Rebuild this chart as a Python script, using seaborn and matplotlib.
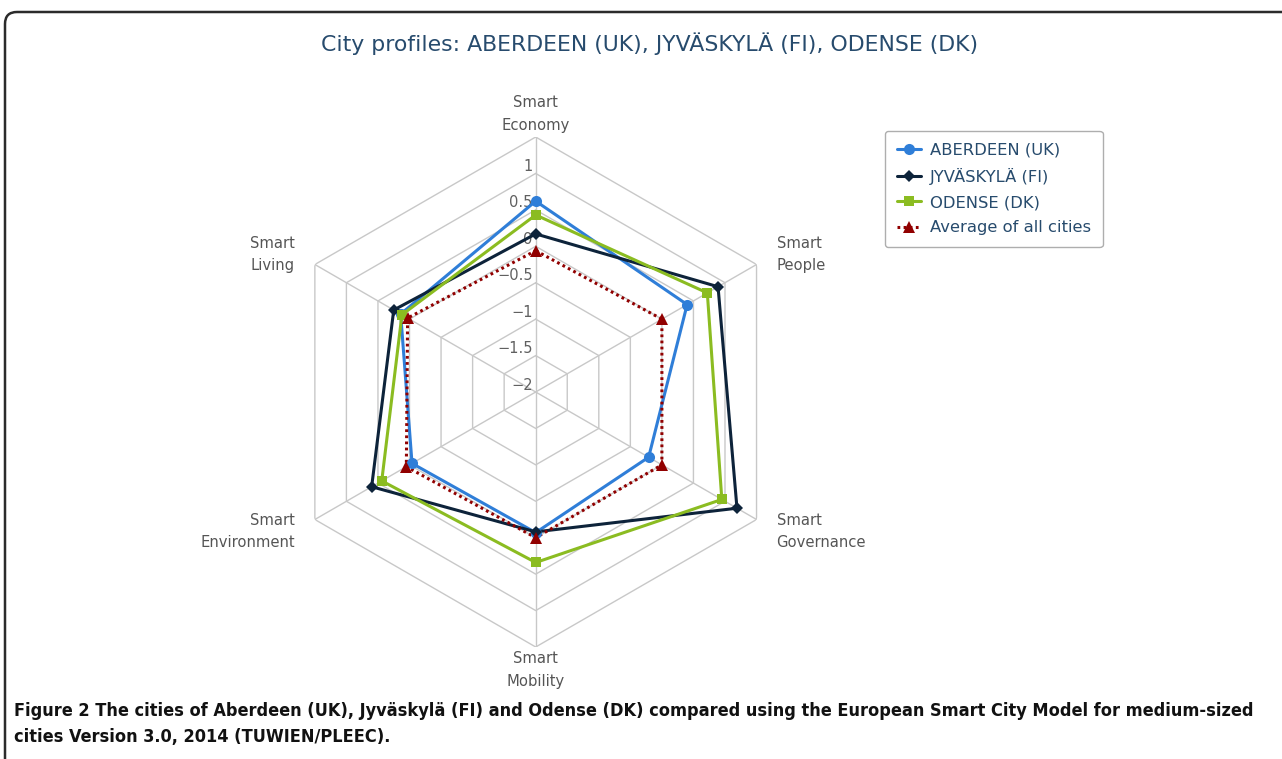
import numpy as np
import pandas as pd
import matplotlib
matplotlib.use("Agg")
import matplotlib.pyplot as plt
import seaborn as sns
from matplotlib.lines import Line2D
from matplotlib.patches import FancyBboxPatch

# ---------------- data ----------------
categories = ["Smart\nEconomy", "Smart\nPeople", "Smart\nGovernance",
              "Smart\nMobility", "Smart\nEnvironment", "Smart\nLiving"]
series_names = ["ABERDEEN (UK)", "JYVÄSKYLÄ (FI)", "ODENSE (DK)", "Average of all cities"]
aberdeen = [0.62, 0.40, -0.21, -0.07, -0.04, 0.14]
jyvaskyla = [0.17, 0.89, 1.19, -0.08, 0.60, 0.25]
odense = [0.43, 0.72, 0.95, 0.34, 0.44, 0.12]
average = [-0.06, 0.00, 0.00, 0.00, 0.05, 0.03]
ring_values = [-2, -1.5, -1, -0.5, 0, 0.5, 1, 1.5]
tick_labels = ["−2", "−1.5", "−1", "−0.5", "0", "0.5", "1"]

title = "City profiles: ABERDEEN (UK), JYVÄSKYLÄ (FI), ODENSE (DK)"
caption1 = "Figure 2 The cities of Aberdeen (UK), Jyväskylä (FI) and Odense (DK) compared using the European Smart City Model for medium-sized"
caption2 = "cities Version 3.0, 2014 (TUWIEN/PLEEC)."

colors = ["#2f7ed8", "#0d233a", "#8bbc21", "#910000"]
markers = ["o", "D", "s", "^"]
msizes = [8, 6, 7.5, 8.5]

# ---------------- figure ----------------
sns.set_theme(style="white")
plt.rcParams["font.family"] = ["DejaVu Sans"]
W, H = 1282, 759
fig = plt.figure(figsize=(W / 100, H / 100), dpi=100)

# overlay axes in pixel units for frame and texts
bg = fig.add_axes([0, 0, 1, 1])
bg.set_xlim(0, W)
bg.set_ylim(0, H)
bg.axis("off")
frame = FancyBboxPatch((5, -20), W + 20, H - 12 + 20,
                       boxstyle="round,pad=0,rounding_size=12",
                       fill=False, edgecolor="#2b2b2b", linewidth=1.8)
bg.add_patch(frame)
bg.text(650, H - 44, title, ha="center", va="center", fontsize=15.8, color="#274b6d")
bg.text(14, H - 711, caption1, ha="left", va="center", fontsize=13.0,
        fontweight="bold", color="#111111", fontstretch="condensed")
bg.text(14, H - 737, caption2, ha="left", va="center", fontsize=13.0,
        fontweight="bold", color="#111111", fontstretch="condensed")

# polar chart: center (535.7, 392) px, outer radius 255 px
cx, cy, R = 535.7, 392, 255
ax = fig.add_axes([(cx - R) / W, (H - cy - R) / H, 2 * R / W, 2 * R / H], projection="polar")
ax.set_theta_offset(np.pi / 2)
ax.set_theta_direction(-1)
ax.patch.set_alpha(0)

n = len(categories)
theta = np.linspace(0, 2 * np.pi, n, endpoint=False)
theta_closed = np.append(theta, 2 * np.pi)

# polygon grid
grid_col = "#C8C8C8"
for r in ring_values[1:]:
    ax.plot(theta_closed, [r] * (n + 1), color=grid_col, lw=1, zorder=1)
for t in theta:
    ax.plot([t, t], [-2, 1.5], color=grid_col, lw=1, zorder=1)

# series through seaborn
rows = []
for name, vals in zip(series_names, [aberdeen, jyvaskyla, odense, average]):
    vv = list(vals) + [vals[0]]
    for i, (t, v) in enumerate(zip(theta_closed, vv)):
        rows.append({"theta": t, "value": v, "series": name, "order": i})
df = pd.DataFrame(rows)

for name, c, m, ms in zip(series_names, colors, markers, msizes):
    sub = df[df["series"] == name]
    dotted = name.startswith("Average")
    sns.lineplot(data=sub, x="theta", y="value", sort=False, estimator=None,
                 color=c, lw=2.2, ax=ax, zorder=5,
                 linestyle=(0, (0.9, 1.1)) if dotted else "-",
                 marker=None)
    s2 = sub.iloc[:-1]
    ax.plot(s2["theta"], s2["value"], linestyle="none", marker=m, markersize=ms,
            color=c, markeredgewidth=0, zorder=6)

ax.set_ylim(-2, 1.5)
ax.grid(False)
ax.set_xticks([])
ax.set_yticks([])
ax.set_xlabel("")
ax.set_ylabel("")
ax.spines["polar"].set_visible(False)

# radial tick labels
for r, lab in zip(ring_values[:-1], tick_labels):
    ax.annotate(lab, xy=(0, r), xytext=(-3, 7), textcoords="offset pixels",
                ha="right", va="center", fontsize=10.5, color="#606060",
                zorder=3, annotation_clip=False)

# category labels
offs = [(0, 4, "center", "bottom"), (20, 10, "left", "center"),
        (20, -12, "left", "center"), (0, -4, "center", "top"),
        (-20, -12, "right", "center"), (-20, 10, "right", "center")]
for t, lab, (dx, dy, ha, va) in zip(theta, categories, offs):
    ax.annotate(lab, xy=(t, 1.5), xytext=(dx, dy), textcoords="offset pixels",
                ha=ha, va=va, fontsize=10.6, color="#555555", linespacing=1.65,
                multialignment="center" if ha == "center" else ha,
                annotation_clip=False)

# legend
handles = []
for name, c, m, ms in zip(series_names, colors, markers, msizes):
    ls = (0, (0.9, 1.1)) if name.startswith("Average") else "-"
    handles.append(Line2D([0], [0], color=c, lw=2.2, linestyle=ls, marker=m,
                          markersize=ms, markeredgewidth=0))
leg = fig.legend(handles=handles, labels=series_names, loc="upper left",
                 bbox_to_anchor=(885 / W, 1 - 131 / H), borderaxespad=0,
                 fontsize=11.8, handlelength=1.5, handletextpad=0.5,
                 labelspacing=0.62, borderpad=0.72, frameon=True, fancybox=True,
                 labelcolor="#274b6d")
leg.get_frame().set_edgecolor("#9a9a9a")
leg.get_frame().set_linewidth(1.0)

fig.savefig("out.png", dpi=100)
